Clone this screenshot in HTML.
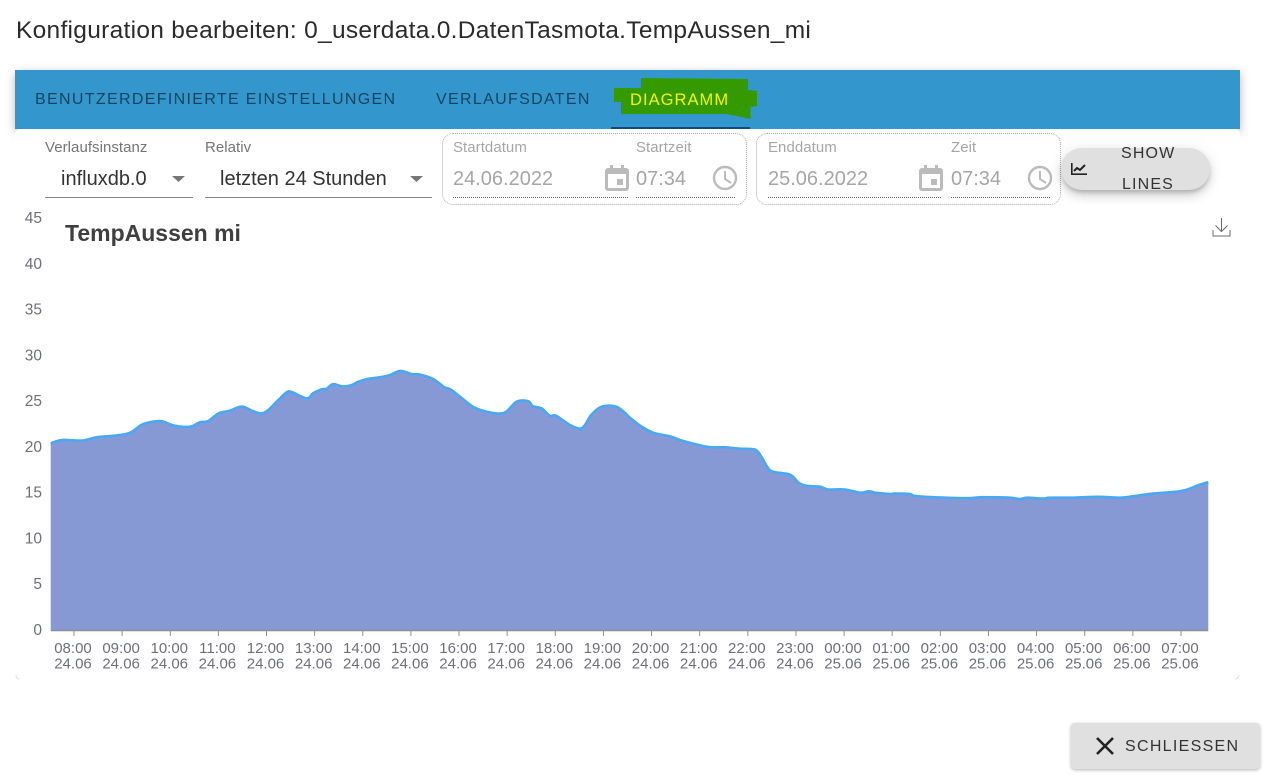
<!DOCTYPE html>
<html lang="de">
<head>
<meta charset="utf-8">
<title>Konfiguration bearbeiten</title>
<style>
html,body{margin:0;padding:0;background:#fff;}
body{width:1265px;height:776px;position:relative;overflow:hidden;font-family:"Liberation Sans",Arial,sans-serif;}
.a{position:absolute;white-space:nowrap;}
.lbl{font-size:15px;line-height:16px;letter-spacing:.05px;color:#757575;}
.dis{color:#a6a6a6;}
.val{font-size:20px;line-height:24px;color:#333;}
.val.dis{color:#a6a6a6;}
.tab{font-size:16px;line-height:18px;letter-spacing:1.33px;color:#16445f;top:91px;}
.uline{height:0;border-bottom:1px dotted #666;}
.box{border:1px dotted #aaa;border-radius:11px;box-sizing:border-box;}
</style>
</head>
<body>
<div class="a" style="left:16px;top:17px;font-size:24.5px;line-height:28px;letter-spacing:.29px;color:#2b2b2b;">Konfiguration bearbeiten: 0_userdata.0.DatenTasmota.TempAussen_mi</div>

<div class="a" style="left:15px;top:70px;width:1225px;height:59px;background:#3397cd;box-shadow:0 3px 9px rgba(0,0,0,.28);"></div>
<div class="a" style="left:15px;top:129px;width:1225px;height:550px;background:#fff;border-radius:5px;"></div>
<svg class="a" style="left:15px;top:674px;" width="1225" height="6"><path d="M1 1q0 3.5 3.5 4M1224 1q0 3.500-3.500 4" fill="none" stroke="#ddd" stroke-width="1"/></svg>

<div class="a tab" style="left:35px;">BENUTZERDEFINIERTE EINSTELLUNGEN</div>
<div class="a tab" style="left:436px;">VERLAUFSDATEN</div>
<svg class="a" style="left:0;top:0;" width="1265" height="140">
<polygon fill="#359a00" points="614,88 641,88 641,78 748,79 748,90 757,91 757,106 750.5,107 750.5,119 727,114 621,114 621,102 614,102"/>
</svg>
<div class="a tab" style="left:630px;color:#f5f500;font-size:16.5px;letter-spacing:1.05px;">DIAGRAMM</div>
<div class="a" style="left:611px;top:127px;width:139px;height:2px;background:#0f4a85;"></div>

<div class="a lbl" style="left:45px;top:140px;">Verlaufsinstanz</div>
<div class="a val" style="left:61px;top:167px;">influxdb.0</div>
<svg class="a" style="left:171px;top:175px;" width="16" height="8"><polygon points="1,1 14,1 7.5,7" fill="#777"/></svg>
<div class="a" style="left:45px;top:197px;width:148px;height:1px;background:#888;"></div>

<div class="a lbl" style="left:205px;top:140px;">Relativ</div>
<div class="a val" style="left:220px;top:167px;">letzten 24 Stunden</div>
<svg class="a" style="left:409px;top:175px;" width="16" height="8"><polygon points="1,1 14,1 7.5,7" fill="#777"/></svg>
<div class="a" style="left:205px;top:197px;width:227px;height:1px;background:#888;"></div>

<div class="a box" style="left:442px;top:133px;width:305px;height:72px;"></div>
<div class="a lbl dis" style="left:453px;top:140px;">Startdatum</div>
<div class="a val dis" style="left:453px;top:167px;">24.06.2022</div>
<div class="a uline" style="left:453px;top:197px;width:175px;"></div>
<div class="a lbl dis" style="left:636px;top:140px;">Startzeit</div>
<div class="a val dis" style="left:636px;top:167px;">07:34</div>
<div class="a uline" style="left:636px;top:197px;width:99px;"></div>

<div class="a box" style="left:756px;top:133px;width:305px;height:72px;"></div>
<div class="a lbl dis" style="left:768px;top:140px;">Enddatum</div>
<div class="a val dis" style="left:768px;top:167px;">25.06.2022</div>
<div class="a uline" style="left:768px;top:197px;width:173px;"></div>
<div class="a lbl dis" style="left:951px;top:140px;">Zeit</div>
<div class="a val dis" style="left:951px;top:167px;">07:34</div>
<div class="a uline" style="left:951px;top:197px;width:99px;"></div>

<svg class="a" style="left:605px;top:165px;" width="24" height="26" viewBox="0 0 24 26"><path fill="#bbb" d="M5 0h3v3h8V0h3v3h2a3 3 0 0 1 3 3v17a3 3 0 0 1-3 3H3a3 3 0 0 1-3-3V6a3 3 0 0 1 3-3h2zM3 9v14h18V9zm9 5h6v6h-6z"/></svg>
<svg class="a" style="left:712px;top:165px;" width="26" height="26" viewBox="0 0 26 26"><circle cx="13" cy="13" r="11" fill="none" stroke="#bbb" stroke-width="2.4"/><path d="M13 6v8l6 4" fill="none" stroke="#bbb" stroke-width="2"/></svg>
<svg class="a" style="left:919px;top:165px;" width="24" height="26" viewBox="0 0 24 26"><path fill="#bbb" d="M5 0h3v3h8V0h3v3h2a3 3 0 0 1 3 3v17a3 3 0 0 1-3 3H3a3 3 0 0 1-3-3V6a3 3 0 0 1 3-3h2zM3 9v14h18V9zm9 5h6v6h-6z"/></svg>
<svg class="a" style="left:1027px;top:165px;" width="26" height="26" viewBox="0 0 26 26"><circle cx="13" cy="13" r="11" fill="none" stroke="#bbb" stroke-width="2.4"/><path d="M13 6v8l6 4" fill="none" stroke="#bbb" stroke-width="2"/></svg>

<div class="a" style="left:1061px;top:148px;width:149px;height:42px;border-radius:21px;background:#e0e0e0;box-shadow:0 3px 5px -1px rgba(0,0,0,.2),0 6px 10px rgba(0,0,0,.14),0 1px 18px rgba(0,0,0,.08);"></div>
<svg class="a" style="left:1071px;top:163px;" width="16" height="12" viewBox="0 0 16 12"><path d="M.8 0v11.200H16" fill="none" stroke="#222" stroke-width="1.600"/><path d="M3 8l3-3 3 2 5-5" fill="none" stroke="#222" stroke-width="2"/></svg>
<div class="a" style="left:1121px;top:145px;font-size:16px;line-height:18px;letter-spacing:1.15px;color:#333;">SHOW</div>
<div class="a" style="left:1122px;top:176px;font-size:16px;line-height:18px;letter-spacing:1.15px;color:#333;">LINES</div>

<svg class="a" id="chart" style="left:0;top:200px;" width="1265" height="474" viewBox="0 200 1265 474"></svg>

<div class="a" style="left:65px;top:219px;font-size:23px;line-height:28px;font-weight:bold;color:#3f3f3f;">TempAussen mi</div>
<svg class="a" style="left:1212px;top:218px;" width="19" height="19" viewBox="0 0 19 19"><path d="M9.500 0v13M3.500 7.500l6 6 6-6M1 12v6h17v-6" fill="none" stroke="#6b6b6b" stroke-width="1"/></svg>

<div class="a" style="left:1071px;top:723px;width:189px;height:46px;border-radius:4px;background:#e0e0e0;box-shadow:0 1px 3px rgba(0,0,0,.3);"></div>
<svg class="a" style="left:1096px;top:737px;" width="18" height="18" viewBox="0 0 18 18"><path d="M1 1l16 16M17 1L1 17" stroke="#222" stroke-width="2.600" fill="none"/></svg>
<div class="a" style="left:1125px;top:738px;font-size:16px;line-height:18px;letter-spacing:1.3px;color:#333;">SCHLIESSEN</div>

<script>
// Minutes relative to 24.06 08:00
var sampleMinutes = [-29,-15,11,28,53,70,84,95,109,126,145,157,167,180,194,209,222,233,242,254,265,271,290,298,309,315,323,335,346,354,365,381,394,407,421,431,448,462,469,481,497,512,529,539,552,566,572,583,593,601,618,631,637,645,658,677,693,706,722,743,759,784,795,812,830,849,857,864,871,893,903,913,930,940,961,980,991,999,1017,1023,1042,1048,1071,1113,1133,1167,1179,1188,1208,1217,1244,1277,1304,1320,1345,1375,1388,1398,1414];
var temperatures = [20.4,20.75,20.7,21.05,21.25,21.55,22.4,22.7,22.8,22.3,22.2,22.7,22.8,23.65,23.95,24.4,23.95,23.65,24.0,25.05,25.95,26.0,25.3,25.85,26.3,26.35,26.85,26.6,26.75,27.1,27.4,27.6,27.85,28.3,27.95,27.9,27.4,26.5,26.3,25.5,24.4,23.9,23.65,23.85,24.95,25.0,24.45,24.2,23.4,23.4,22.4,22.0,22.4,23.5,24.4,24.35,23.2,22.3,21.55,21.15,20.65,20.1,19.95,19.95,19.8,19.7,18.9,17.85,17.3,16.95,16.1,15.75,15.65,15.35,15.35,15.0,15.15,15.0,14.85,14.9,14.85,14.65,14.5,14.4,14.5,14.45,14.3,14.45,14.35,14.45,14.45,14.55,14.45,14.6,14.9,15.1,15.35,15.7,16.15];
var yTickValues = [0,5,10,15,20,25,30,35,40,45];
var xTickTimes = ["08:00","09:00","10:00","11:00","12:00","13:00","14:00","15:00","16:00","17:00","18:00","19:00","20:00","21:00","22:00","23:00","00:00","01:00","02:00","03:00","04:00","05:00","06:00","07:00"];
var xTickDates = ["24.06","24.06","24.06","24.06","24.06","24.06","24.06","24.06","24.06","24.06","24.06","24.06","24.06","24.06","24.06","24.06","25.06","25.06","25.06","25.06","25.06","25.06","25.06","25.06"];

var NS = 'http://www.w3.org/2000/svg';
var svg = document.getElementById('chart');
function xScale(minutes){ return 74 + minutes * 48.13 / 60; }
function yScale(value){ return 630 - value * 9.156; }
function make(tag, attrs){
  var el = document.createElementNS(NS, tag);
  for (var k in attrs) el.setAttribute(k, attrs[k]);
  svg.appendChild(el);
  return el;
}
var pts = sampleMinutes.map(function(m, i){ return [xScale(m), yScale(temperatures[i])]; });
// Smooth curve through the samples (Catmull-Rom to Bezier)
function curve(p){
  var d = 'M' + p[0][0].toFixed(1) + ' ' + p[0][1].toFixed(1);
  for (var i = 0; i < p.length - 1; i++){
    var p0 = p[Math.max(i - 1, 0)], p1 = p[i], p2 = p[i + 1], p3 = p[Math.min(i + 2, p.length - 1)];
    var c1x = p1[0] + (p2[0] - p0[0]) / 6, c1y = p1[1] + (p2[1] - p0[1]) / 6;
    var c2x = p2[0] - (p3[0] - p1[0]) / 6, c2y = p2[1] - (p3[1] - p1[1]) / 6;
    d += 'C' + c1x.toFixed(1) + ' ' + c1y.toFixed(1) + ' ' + c2x.toFixed(1) + ' ' + c2y.toFixed(1) + ' ' + p2[0].toFixed(1) + ' ' + p2[1].toFixed(1);
  }
  return d;
}
var lineD = curve(pts);
var firstX = pts[0][0], lastX = pts[pts.length - 1][0];

var area = make('path', {d: lineD + 'L' + lastX.toFixed(1) + ' ' + yScale(0) + 'L' + firstX.toFixed(1) + ' ' + yScale(0) + 'Z', fill: '#8799d5'});



var line = make('path', {d: lineD, fill: 'none', stroke: '#48a8f4', 'stroke-width': 2.6, 'stroke-linejoin': 'round'});



var axis = make('line', {x1: firstX, x2: lastX, y1: 630.5, y2: 630.5, stroke: '#8e8e96', 'stroke-width': 1.6});



yTickValues.forEach(function(v){
  var t = make('text', {x: 42, y: yScale(v) + 5, 'text-anchor': 'end', 'font-size': 15.5, fill: '#6e7079', 'font-family': '"Liberation Sans", sans-serif'});
  t.textContent = v;
  
  
});

xTickTimes.forEach(function(label, i){
  var x = xScale(i * 60);
  var tick = make('line', {x1: x, x2: x, y1: 630, y2: 636, stroke: '#8e8e96', 'stroke-width': 1});
  
  
  var a = make('text', {x: x - 1, y: 653, 'text-anchor': 'middle', 'font-size': 15, fill: '#6e7079', 'font-family': '"Liberation Sans", sans-serif'});
  a.textContent = label;
  
  
  var b = make('text', {x: x - 1, y: 668.5, 'text-anchor': 'middle', 'font-size': 15, fill: '#6e7079', 'font-family': '"Liberation Sans", sans-serif'});
  b.textContent = xTickDates[i];
  
  
});
</script>
</body>
</html>
